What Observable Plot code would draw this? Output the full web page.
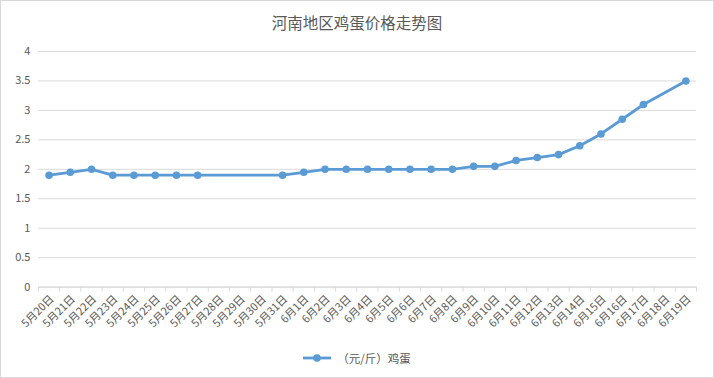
<!DOCTYPE html>
<html><head><meta charset="utf-8">
<script src="https://cdn.jsdelivr.net/npm/d3@7"></script>
<script src="https://cdn.jsdelivr.net/npm/@observablehq/plot@0.6"></script>
<style>
body{margin:0;background:#fff;}
#chart{width:714px;height:378px;box-sizing:border-box;border:1px solid #d9d9d9;position:relative;font-family:"Noto Sans CJK SC","Noto Sans",sans-serif;color:#595959;overflow:hidden;background:#fff}
#title{position:absolute;top:9px;left:0;width:100%;text-align:center;font-size:15.5px;line-height:24px;}
#plot{position:absolute;top:39px;left:-1px;}
#legend{position:absolute;top:347px;left:0;width:100%;display:flex;justify-content:center;align-items:center;font-size:11.5px;line-height:20px;}
#legend svg{margin-right:6px}
</style>
</head><body>
<div id="chart">
  <div id="title">河南地区鸡蛋价格走势图</div>
  <div id="plot"></div>
  <div id="legend"></div>
</div>
<script>
const dates = ["5月20日","5月21日","5月22日","5月23日","5月24日","5月25日","5月26日","5月27日","5月28日","5月29日","5月30日","5月31日",
  "6月1日","6月2日","6月3日","6月4日","6月5日","6月6日","6月7日","6月8日","6月9日","6月10日","6月11日","6月12日","6月13日","6月14日","6月15日","6月16日","6月17日","6月18日","6月19日"];
const prices = [1.9,1.95,2.0,1.9,1.9,1.9,1.9,1.9,null,null,null,1.9,
  1.95,2.0,2.0,2.0,2.0,2.0,2.0,2.0,2.05,2.05,2.15,2.2,2.25,2.4,2.6,2.85,3.1,null,3.5];
const yTicks = [0,0.5,1,1.5,2,2.5,3,3.5,4];
const seriesName = "（元/斤）鸡蛋";
const color = "#5B9BD5";

const data = dates.map((d,i)=>({i, date:d, v:prices[i]})).filter(d=>d.v!=null);
const boundaries = d3.range(dates.length+1).map(k=>k-0.5);

const chart = Plot.plot({
  width: 714,
  height: 300,
  marginTop: 11,
  marginBottom: 53,
  marginLeft: 38,
  marginRight: 17,
  style: {fontFamily: '"Noto Sans CJK SC","Noto Sans",sans-serif', background: "transparent"},
  x: {type: "linear", domain: [-0.5, dates.length-0.5]},
  y: {domain: [0,4]},
  marks: [
    Plot.gridY(yTicks, {stroke:"#d9d9d9", strokeOpacity:1}),
    Plot.axisY({ticks: yTicks, tickSize:0, tickPadding:8, tickFormat: d=>String(d), fontSize:11, fill:"#595959", label:null}),
    Plot.ruleY([0], {stroke:"#d9d9d9"}),
    Plot.axisX({ticks: boundaries, tickSize:5, stroke:"#d9d9d9", strokeOpacity:1, tickFormat: ()=>"", label:null}),
    Plot.axisX({ticks: d3.range(dates.length), tickSize:0, tickPadding:10, tickRotate:-45, tickFormat: i=>dates[i], fontSize:11, fill:"#595959", label:null, dx:3}),
    Plot.line(data, {x:"i", y:"v", stroke:color, strokeWidth:2.8}),
    Plot.dot(data, {x:"i", y:"v", fill:color, r:3.8})
  ]
});
document.getElementById("plot").appendChild(chart);

document.getElementById("legend").innerHTML =
  `<svg width="28" height="10"><line x1="0" y1="5" x2="28" y2="5" stroke="${color}" stroke-width="2.8"/><circle cx="14" cy="5" r="3.8" fill="${color}"/></svg><span>${seriesName}</span>`;
</script>
</body></html>
